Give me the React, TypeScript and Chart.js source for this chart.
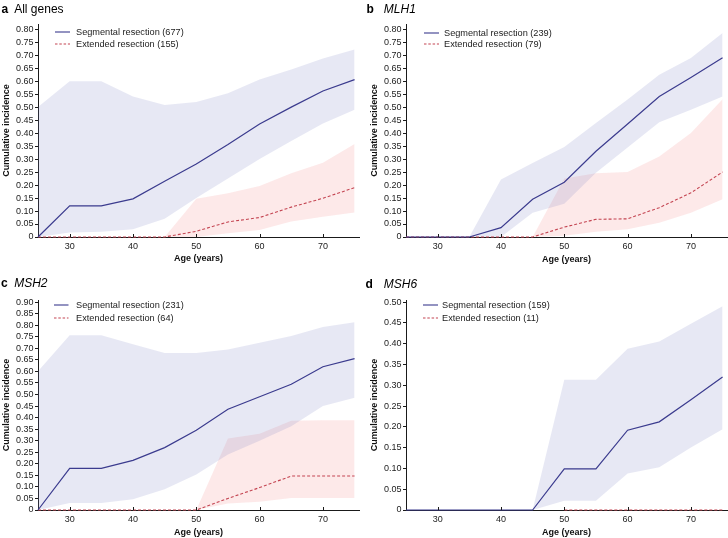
import React, { useEffect, useRef } from "react";
import { Chart, registerables } from "chart.js";

Chart.register(...registerables);

const FONT = "'Liberation Sans', Arial, Helvetica, sans-serif";
const BLUE = "#3b3b8e";
const RED = "#c44552";
const BLUE_FILL = "rgba(120, 126, 192, 0.18)";
const RED_FILL = "rgba(242, 120, 120, 0.16)";
const AXIS = "#1a1a1a";
const TEXT = "#222";

const ages = [25, 30, 35, 40, 45, 50, 55, 60, 65, 70, 75];
const xTicks = [30, 40, 50, 60, 70];
const yTicks080 = [0, 0.05, 0.1, 0.15, 0.2, 0.25, 0.3, 0.35, 0.4, 0.45, 0.5, 0.55, 0.6, 0.65, 0.7, 0.75, 0.8];
const yTicks090 = [0, 0.05, 0.1, 0.15, 0.2, 0.25, 0.3, 0.35, 0.4, 0.45, 0.5, 0.55, 0.6, 0.65, 0.7, 0.75, 0.8, 0.85, 0.9];
const yTicks050 = [0, 0.05, 0.1, 0.15, 0.2, 0.25, 0.3, 0.35, 0.4, 0.45, 0.5];

// a: All genes
const segA = [0, 0.12, 0.12, 0.147, 0.215, 0.281, 0.356, 0.435, 0.5, 0.562, 0.606];
const segUpA = [0.5, 0.6, 0.6, 0.541, 0.508, 0.52, 0.553, 0.606, 0.645, 0.687, 0.722];
const segLoA = [0, 0.017, 0.02, 0.03, 0.07, 0.15, 0.225, 0.3, 0.37, 0.437, 0.49];
const extA = [0, 0, 0, 0, 0, 0.022, 0.058, 0.075, 0.115, 0.149, 0.19];
const extUpA = [0, 0, 0, 0, 0, 0.147, 0.168, 0.196, 0.245, 0.286, 0.358];
const extLoA = [0, 0, 0, 0, 0, 0, 0.014, 0.027, 0.06, 0.078, 0.094];

// b: MLH1
const segB = [0, 0, 0, 0.036, 0.145, 0.211, 0.33, 0.435, 0.541, 0.614, 0.69];
const segUpB = [0, 0, 0, 0.221, 0.285, 0.346, 0.439, 0.529, 0.625, 0.689, 0.785];
const segLoB = [0, 0, 0, 0, 0.093, 0.128, 0.247, 0.345, 0.442, 0.49, 0.541];
const extB = [0, 0, 0, 0, 0, 0.038, 0.068, 0.07, 0.113, 0.17, 0.25];
const extUpB = [0, 0, 0, 0, 0, 0.225, 0.245, 0.25, 0.31, 0.4, 0.53];
const extLoB = [0, 0, 0, 0, 0, 0.005, 0.02, 0.03, 0.055, 0.093, 0.145];

// c: MSH2
const segC = [0, 0.18, 0.18, 0.215, 0.27, 0.345, 0.436, 0.49, 0.544, 0.62, 0.655];
const segUpC = [0.601, 0.756, 0.756, 0.717, 0.68, 0.68, 0.695, 0.724, 0.753, 0.792, 0.813];
const segLoC = [0, 0.03, 0.03, 0.046, 0.09, 0.154, 0.24, 0.3, 0.363, 0.45, 0.486];
const extC = [0, 0, 0, 0, 0, 0, 0.05, 0.097, 0.147, 0.147, 0.147];
const extUpC = [0, 0, 0, 0, 0, 0, 0.31, 0.33, 0.386, 0.388, 0.388];
const extLoC = [0, 0, 0, 0, 0, 0, 0.028, 0.036, 0.052, 0.052, 0.052];

// d: MSH6
const segD = [0, 0, 0, 0, 0, 0.099, 0.099, 0.192, 0.212, 0.265, 0.32];
const segUpD = [0, 0, 0, 0, 0, 0.313, 0.313, 0.388, 0.405, 0.448, 0.49];
const segLoD = [0, 0, 0, 0, 0, 0.022, 0.022, 0.088, 0.103, 0.15, 0.194];
const extD = [null, null, null, null, null, 0, 0, 0, 0, 0, 0];

const pts = (arr: (number | null)[]) => ages.map((a, i) => ({ x: a, y: arr[i] }));

const innerTicks = {
  id: "innerTicks",
  afterDatasetsDraw(chart: any) {
    const { ctx, chartArea, scales } = chart;
    const x = scales.x;
    ctx.save();
    ctx.strokeStyle = AXIS;
    ctx.lineWidth = 1;
    x.ticks.forEach((t: any) => {
      const px = Math.round(x.getPixelForValue(t.value)) + 0.5;
      ctx.beginPath();
      ctx.moveTo(px, chartArea.bottom);
      ctx.lineTo(px, chartArea.bottom - 3);
      ctx.stroke();
    });
    ctx.restore();
  },
};

type PanelProps = {
  left: number;
  top: number;
  height: number;
  padTop: number;
  xAxisH: number;
  titlePadBottom: number;
  yMax: number;
  yTicks: number[];
  seg: number[];
  segUp: number[];
  segLo: number[];
  ext: (number | null)[];
  extUp?: number[];
  extLo?: number[];
};

function Panel(p: PanelProps) {
  const ref = useRef<HTMLCanvasElement>(null);
  useEffect(() => {
    if (!ref.current) return;
    const datasets: any[] = [
      { data: pts(p.seg), borderColor: BLUE, borderWidth: 1.2, pointRadius: 0, fill: false, clip: 4 },
      { data: pts(p.ext), borderColor: RED, borderWidth: 1.1, borderDash: [3, 2], pointRadius: 0, fill: false, clip: 4 },
      { data: pts(p.segUp), borderColor: "transparent", borderWidth: 0, pointRadius: 0, fill: "+1", backgroundColor: BLUE_FILL },
      { data: pts(p.segLo), borderColor: "transparent", borderWidth: 0, pointRadius: 0, fill: false },
    ];
    if (p.extUp && p.extLo) {
      datasets.push(
        { data: pts(p.extUp), borderColor: "transparent", borderWidth: 0, pointRadius: 0, fill: "+1", backgroundColor: RED_FILL },
        { data: pts(p.extLo), borderColor: "transparent", borderWidth: 0, pointRadius: 0, fill: false }
      );
    }
    const chart = new Chart(ref.current, {
      type: "line",
      data: { datasets },
      plugins: [innerTicks],
      options: {
        responsive: false,
        animation: false,
        events: [],
        layout: { padding: { top: p.padTop, right: 1, left: 0, bottom: 0 } },
        plugins: { legend: { display: false }, tooltip: { enabled: false } },
        scales: {
          x: {
            type: "linear",
            min: 25,
            max: 75.7,
            afterBuildTicks: (s: any) => {
              s.ticks = xTicks.map((v) => ({ value: v }));
            },
            afterFit: (s: any) => {
              s.height = p.xAxisH;
            },
            grid: { display: false },
            border: { display: true, color: AXIS, width: 1 },
            ticks: {
              font: { family: FONT, size: 9 },
              color: TEXT,
              padding: -4,
              autoSkip: false,
              maxRotation: 0,
              callback: (v: any) => String(v),
            },
            title: {
              display: true,
              text: "Age (years)",
              font: { family: FONT, size: 9, weight: "bold" },
              color: "#111",
              padding: { top: 0, bottom: p.titlePadBottom },
            },
          },
          y: {
            min: 0,
            max: p.yMax,
            afterBuildTicks: (s: any) => {
              s.ticks = p.yTicks.map((v) => ({ value: v }));
            },
            afterFit: (s: any) => {
              s.width = 38;
            },
            grid: { drawOnChartArea: false, drawTicks: true, tickLength: 3, color: AXIS },
            border: { display: true, color: AXIS, width: 1 },
            ticks: {
              font: { family: FONT, size: 9 },
              color: TEXT,
              padding: 1.5,
              autoSkip: false,
              callback: (v: any) => (Number(v) === 0 ? "0" : Number(v).toFixed(2)),
            },
            title: {
              display: true,
              text: "Cumulative incidence",
              font: { family: FONT, size: 9, weight: "bold" },
              color: "#111",
              padding: { top: 1, bottom: 0 },
            },
          },
        },
      } as any,
    });
    return () => chart.destroy();
  }, []);
  return (
    <canvas
      ref={ref}
      width={360}
      height={p.height}
      style={{ position: "absolute", left: p.left, top: p.top, width: 360, height: p.height }}
    />
  );
}

function Title(props: { left: number; top: number; letter: string; name: string; italic: boolean; gap: number }) {
  return (
    <div
      style={{
        position: "absolute",
        left: props.left,
        top: props.top,
        fontFamily: FONT,
        fontSize: 12,
        lineHeight: "12px",
        color: "#000",
        whiteSpace: "nowrap",
      }}
    >
      <span style={{ fontWeight: "bold" }}>{props.letter}</span>
      <span style={{ marginLeft: props.gap, fontStyle: props.italic ? "italic" : "normal" }}>{props.name}</span>
    </div>
  );
}

function LegendRow(props: { x0: number; x1: number; tx: number; y: number; dashed: boolean; label: string }) {
  const color = props.dashed ? RED : BLUE;
  return (
    <div style={{ position: "absolute", left: props.x0, top: props.y - 6, height: 12, display: "flex", alignItems: "center" }}>
      <svg width={props.x1 - props.x0} height={12} style={{ display: "block" }}>
        <line
          x1={0}
          y1={6}
          x2={props.x1 - props.x0}
          y2={6}
          stroke={color}
          strokeWidth={1.1}
          strokeDasharray={props.dashed ? "2.5 1.8" : undefined}
        />
      </svg>
      <span
        style={{
          marginLeft: props.tx - props.x1,
          fontFamily: FONT,
          fontSize: 9.2,
          lineHeight: "12px",
          color: TEXT,
          whiteSpace: "nowrap",
        }}
      >
        {props.label}
      </span>
    </div>
  );
}

export default function App() {
  return (
    <div style={{ position: "absolute", left: 0, top: 0, width: 728, height: 538, background: "#fff", overflow: "hidden" }}>
      <Panel left={0} top={0} height={268} padTop={24} xAxisH={31} titlePadBottom={3.9} yMax={0.82} yTicks={yTicks080}
        seg={segA} segUp={segUpA} segLo={segLoA} ext={extA} extUp={extUpA} extLo={extLoA} />
      <Panel left={368} top={0} height={268} padTop={24} xAxisH={31} titlePadBottom={3.3} yMax={0.82} yTicks={yTicks080}
        seg={segB} segUp={segUpB} segLo={segLoB} ext={extB} extUp={extUpB} extLo={extLoB} />
      <Panel left={0} top={273} height={265} padTop={27} xAxisH={28} titlePadBottom={0.5} yMax={0.909} yTicks={yTicks090}
        seg={segC} segUp={segUpC} segLo={segLoC} ext={extC} extUp={extUpC} extLo={extLoC} />
      <Panel left={368} top={273} height={265} padTop={27} xAxisH={28} titlePadBottom={0.5} yMax={0.505} yTicks={yTicks050}
        seg={segD} segUp={segUpD} segLo={segLoD} ext={extD} />

      <Title left={1.5} top={2.8} letter="a" name="All genes" italic={false} gap={6} />
      <Title left={366.5} top={2.8} letter="b" name="MLH1" italic={true} gap={10} />
      <Title left={1} top={276.8} letter="c" name="MSH2" italic={true} gap={6.5} />
      <Title left={365.5} top={277.8} letter="d" name="MSH6" italic={true} gap={11} />

      <LegendRow x0={55} x1={70} tx={76} y={32.3} dashed={false} label="Segmental resection (677)" />
      <LegendRow x0={55} x1={70} tx={76} y={44.3} dashed={true} label="Extended resection (155)" />
      <LegendRow x0={424} x1={439} tx={444} y={32.5} dashed={false} label="Segmental resection (239)" />
      <LegendRow x0={424} x1={439} tx={444} y={44.3} dashed={true} label="Extended resection (79)" />
      <LegendRow x0={54} x1={68.5} tx={76} y={305.3} dashed={false} label="Segmental resection (231)" />
      <LegendRow x0={54} x1={68.5} tx={76} y={318} dashed={true} label="Extended resection (64)" />
      <LegendRow x0={423} x1={438} tx={442} y={305} dashed={false} label="Segmental resection (159)" />
      <LegendRow x0={423} x1={438} tx={442} y={318} dashed={true} label="Extended resection (11)" />
    </div>
  );
}
